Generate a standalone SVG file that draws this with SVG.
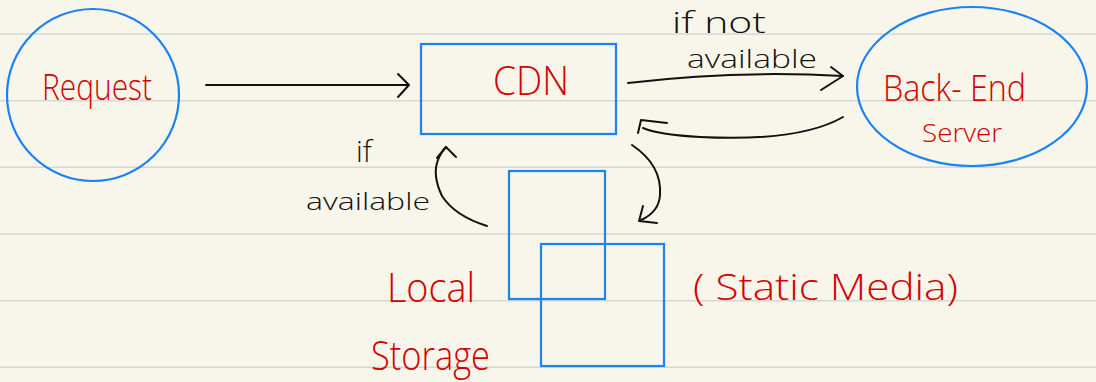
<svg xmlns="http://www.w3.org/2000/svg" width="1096" height="382" viewBox="0 0 1096 382">
  <style>
    .paper { fill: #f8f6ea; }
    .rule { stroke: #d6d6d4; stroke-width: 1.6; }
    .shape { fill: none; stroke: #1a82f5; stroke-width: 2.2; }
    .ink { fill: none; stroke: #111111; stroke-width: 2; stroke-linecap: round; stroke-linejoin: round; }
    .red { fill: #d40000; font-family: "Open Sans", "Liberation Sans", sans-serif; font-weight: 300; }
    .note { fill: #111111; font-family: "Open Sans", "Liberation Sans", sans-serif; font-weight: 300; }
  </style>

  <!-- ruled notebook paper -->
  <rect class="paper" x="0" y="0" width="1096" height="382"/>
  <g id="rules">
    <line class="rule" x1="0" y1="34" x2="1096" y2="34"/>
    <line class="rule" x1="0" y1="100.7" x2="1096" y2="100.7"/>
    <line class="rule" x1="0" y1="167.3" x2="1096" y2="167.3"/>
    <line class="rule" x1="0" y1="234" x2="1096" y2="234"/>
    <line class="rule" x1="0" y1="300.7" x2="1096" y2="300.7"/>
    <line class="rule" x1="0" y1="367.3" x2="1096" y2="367.3"/>
  </g>

  <!-- connectors -->
  <g id="connectors">
    <!-- request to CDN -->
    <path class="ink" d="M206 85 L408 85"/>
    <path class="ink" d="M398 74 L409 85 L398 97"/>
    <!-- CDN to back-end -->
    <path class="ink" d="M628 83 Q735 70 843 76"/>
    <path class="ink" d="M831 67 L843 76 L821 90"/>
    <!-- back-end back to CDN -->
    <path class="ink" d="M843 117 Q800 142 700 137 Q660 135 643 128"/>
    <path class="ink" d="M638 133 L641 120 L667 123"/>
    <!-- CDN down to storage -->
    <path class="ink" d="M632 145 Q662 165 660 195 Q659 212 641 220"/>
    <path class="ink" d="M643 206 L639 221 L657 223"/>
    <!-- storage up to CDN -->
    <path class="ink" d="M487 226 Q455 216 442 196 Q432 175 438 160 Q441 152 446 147"/>
    <path class="ink" d="M437 158 L446 147 L456 157"/>
  </g>

  <!-- connector labels -->
  <g id="labels">
    <text class="note" x="672" y="33" font-size="30" textLength="94" lengthAdjust="spacingAndGlyphs">if not</text>
    <text class="note" x="687" y="68" font-size="26" textLength="130" lengthAdjust="spacingAndGlyphs">available</text>
    <text class="note" x="356" y="162" font-size="30">if</text>
    <text class="note" x="306" y="210" font-size="24" textLength="124" lengthAdjust="spacingAndGlyphs">available</text>
  </g>

  <g id="request">
    <circle class="shape" cx="93" cy="95" r="86"/>
    <text class="red" x="42" y="100" font-size="36" textLength="110" lengthAdjust="spacingAndGlyphs">Request</text>
  </g>

  <g id="cdn">
    <rect class="shape" x="421" y="44" width="195" height="90"/>
    <text class="red" x="493" y="95" font-size="40" textLength="76" lengthAdjust="spacingAndGlyphs">CDN</text>
  </g>

  <g id="backend">
    <ellipse class="shape" cx="972" cy="86.5" rx="115" ry="79.5"/>
    <text class="red" x="883" y="101" font-size="36" textLength="143" lengthAdjust="spacingAndGlyphs">Back- End</text>
    <text class="red" x="922" y="142" font-size="25" textLength="80" lengthAdjust="spacingAndGlyphs">Server</text>
  </g>

  <g id="storage">
    <rect class="shape" x="509" y="171" width="96" height="128"/>
    <rect class="shape" x="541" y="244" width="123" height="122"/>
    <text class="red" x="387" y="302" font-size="40" textLength="88" lengthAdjust="spacingAndGlyphs">Local</text>
    <text class="red" x="371" y="370" font-size="40" textLength="119" lengthAdjust="spacingAndGlyphs">Storage</text>
    <text class="red" x="693" y="300" font-size="36" textLength="265" lengthAdjust="spacingAndGlyphs">( Static Media)</text>
  </g>
</svg>
